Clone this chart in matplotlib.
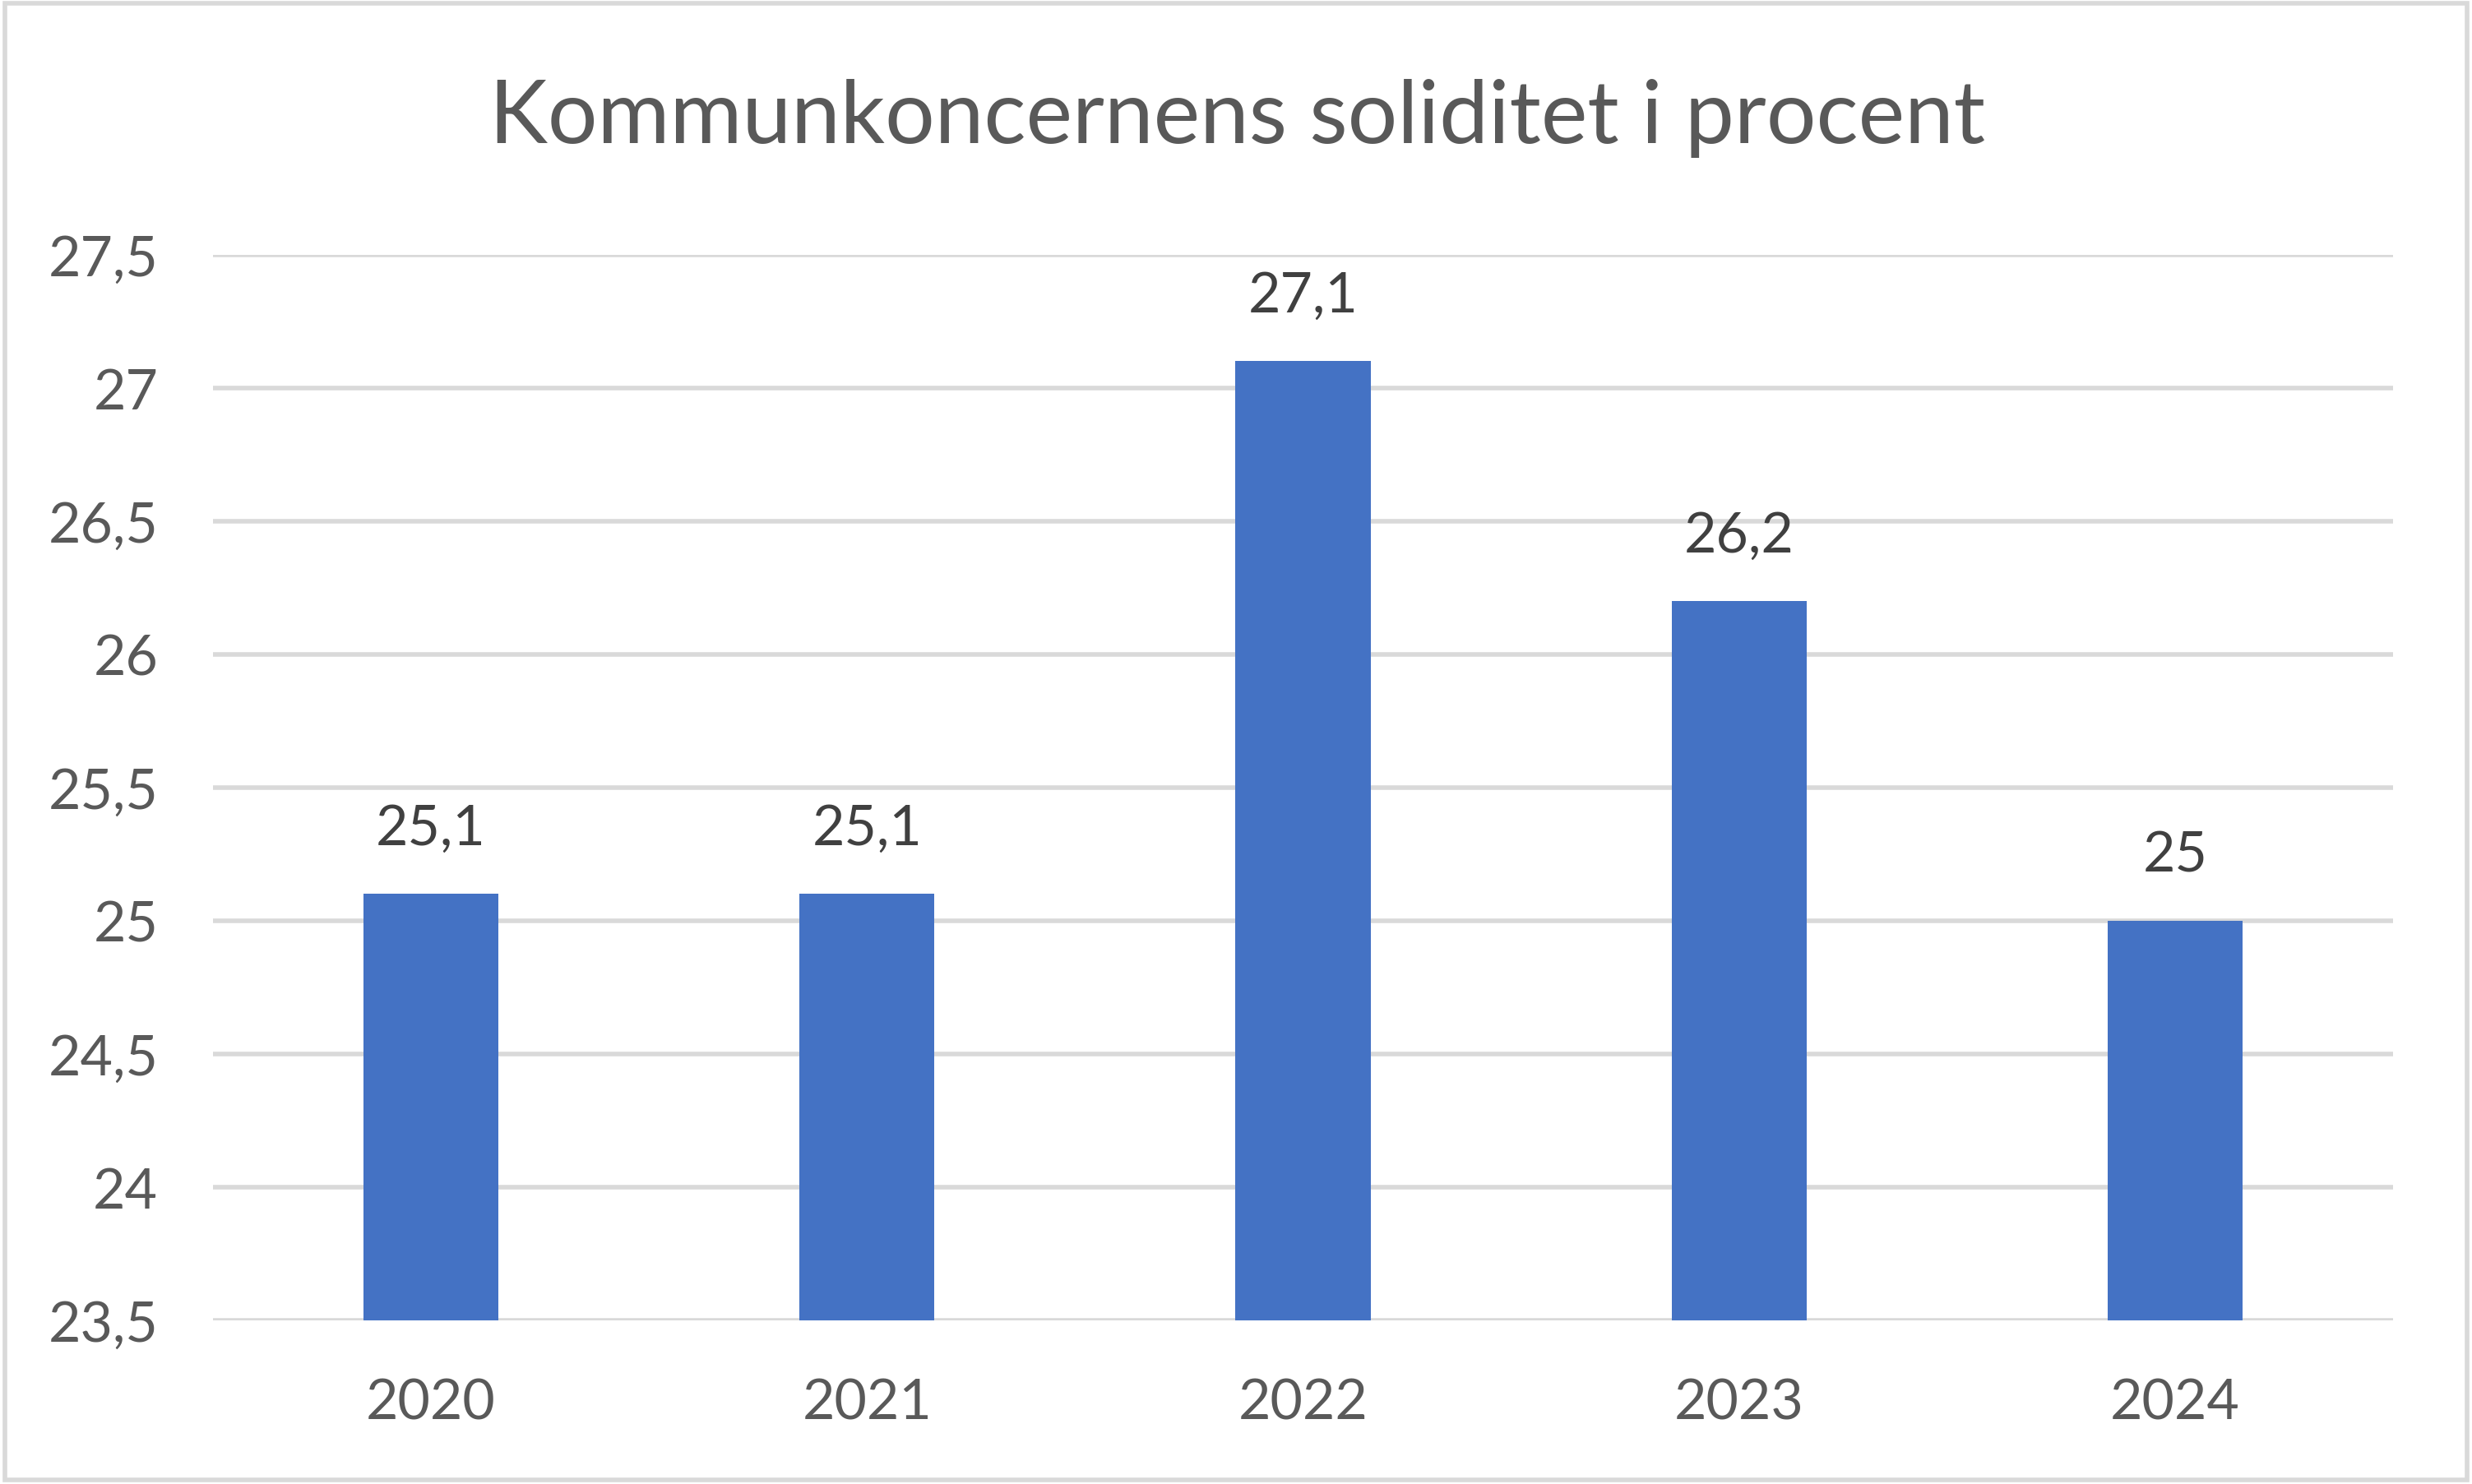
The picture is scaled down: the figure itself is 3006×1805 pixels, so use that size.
import matplotlib.pyplot as plt
from matplotlib.patches import Rectangle

years = ["2020", "2021", "2022", "2023", "2024"]
soliditet = [25.1, 25.1, 27.1, 26.2, 25.0]
yticks = [23.5, 24, 24.5, 25, 25.5, 26, 26.5, 27, 27.5]


def fmt(v):
    # swedish decimal comma, drop trailing ,0
    s = ("%.1f" % v).replace(".", ",")
    return s[:-2] if s.endswith(",0") else s


plt.rcParams["font.family"] = ["Lato", "DejaVu Sans"]

fig = plt.figure(figsize=(30.06, 18.06), dpi=100)
ax = fig.add_axes([0.0861, 0.1104, 0.882, 0.7176])

x = range(len(years))
ax.bar(x, [v - 23.5 for v in soliditet], bottom=23.5, width=0.31,
       color="#4472C4", zorder=3)

for i, v in zip(x, soliditet):
    ax.annotate(fmt(v), (i, v), xytext=(0, 57), textcoords="offset points",
                ha="center", va="center", fontsize=49, color="#404040")

ax.set_xlim(-0.5, len(years) - 0.5)
ax.set_ylim(23.5, 27.5)
ax.set_yticks(yticks)
ax.set_yticklabels([fmt(t) for t in yticks])
ax.set_xticks(list(x))
ax.set_xticklabels(years)
ax.tick_params(axis="both", length=0, labelsize=49, labelcolor="#595959")
ax.tick_params(axis="y", pad=48)
ax.tick_params(axis="x", pad=50)

ax.yaxis.grid(True, color="#D9D9D9", linewidth=4, zorder=0)
ax.set_axisbelow(True)
for sp in ax.spines.values():
    sp.set_visible(False)

fig.text(0.5006, 0.92, "Kommunkoncernens soliditet i procent",
         ha="center", va="center", fontsize=77, color="#595959")

fig.patches.append(Rectangle((0.002, 0.003), 0.996, 0.994, transform=fig.transFigure,
                             fill=False, edgecolor="#D9D9D9", linewidth=4))

fig.savefig("out.png", dpi=100)
